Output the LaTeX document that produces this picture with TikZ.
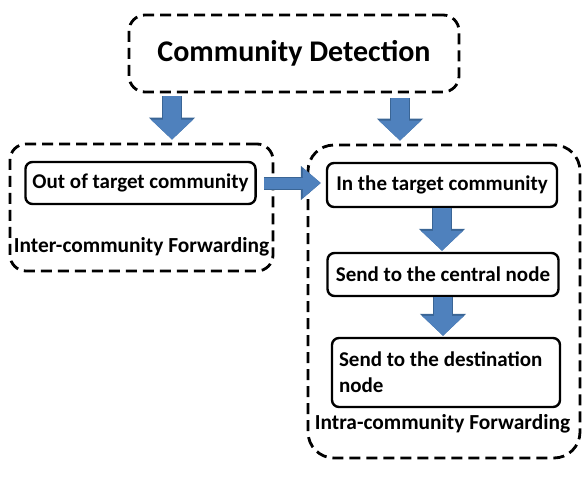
\documentclass[tikz,border=0pt]{standalone}
\usepackage{fontspec}
\setmainfont{Carlito}
\usetikzlibrary{arrows.meta}

\definecolor{flowblue}{HTML}{4F81BD}
\definecolor{flowedge}{HTML}{3A6595}

\tikzset{
  groupbox/.style={draw, line width=2.8pt, dash pattern=on 11pt off 6pt, rounded corners=16pt},
  stepbox/.style={draw, line width=2.4pt, rounded corners=7pt, inner sep=7pt, font=\fontsize{21}{26}\selectfont\bfseries},
  grouplabel/.style={inner sep=0pt, font=\fontsize{21.4}{25}\selectfont\bfseries},
  flow/.style={draw=flowblue, line width=18pt, -{Triangle[length=20pt,width=41pt]},
    preaction={draw=flowedge, line width=20pt, -{Triangle[length=22pt,width=45pt]}}},
  flowsmall/.style={draw=flowblue, line width=11pt, -{Triangle[length=18pt,width=29pt]},
    preaction={draw=flowedge, line width=13pt, -{Triangle[length=20pt,width=33pt]}}}
}

\begin{document}
\begin{tikzpicture}[x=1pt,y=-1pt]
			\useasboundingbox (0,0) rectangle (588,489);
			\node[groupbox, minimum width=330pt, minimum height=77pt, font=\fontsize{30}{36}\selectfont\bfseries] (detect) at (294,53.5) {Community Detection};
			\node[groupbox, minimum width=263pt, minimum height=127pt] (inter) at (141.5,207.5) {};
			\node[stepbox, minimum width=229pt, minimum height=42pt] (out) at (140.5,183) {Out of target community};
			\node[grouplabel] (interlabel) at (141.5,247) {Inter-community Forwarding};
			\node[groupbox, minimum width=272pt, minimum height=313pt, rounded corners=26pt] (intra) at (444,301.5) {};
			\node[stepbox, minimum width=230pt, minimum height=44pt] (target) at (442,185) {In the target community};
			\node[stepbox, minimum width=231pt, minimum height=43pt] (central) at (443,274.5) {Send to the central node};
			\node[stepbox, minimum height=69pt, text width=214pt, align=flush left] (dest) at (446,372.5) {Send to the destination\\node};
			\node[grouplabel] (intralabel) at (442.5,424) {Intra-community Forwarding};
			\draw[flow, shorten <=3pt, shorten >=3pt] ([xshift=-122pt]detect.south) -- ([xshift=-122pt]detect.south |- inter.north);
			\draw[flow, shorten <=5pt, shorten >=3pt] ([xshift=106pt]detect.south) -- ([xshift=106pt]detect.south |- intra.north);
			\draw[flowsmall, shorten <=7pt, shorten >=5pt] (out.east) -- (out.east -| target.west);
			\draw[flow, shorten >=1pt] (target.south) -- (target.south |- central.north);
			\draw[flow, shorten >=1pt] (central.south) -- (central.south |- dest.north);
\end{tikzpicture}
\end{document}
